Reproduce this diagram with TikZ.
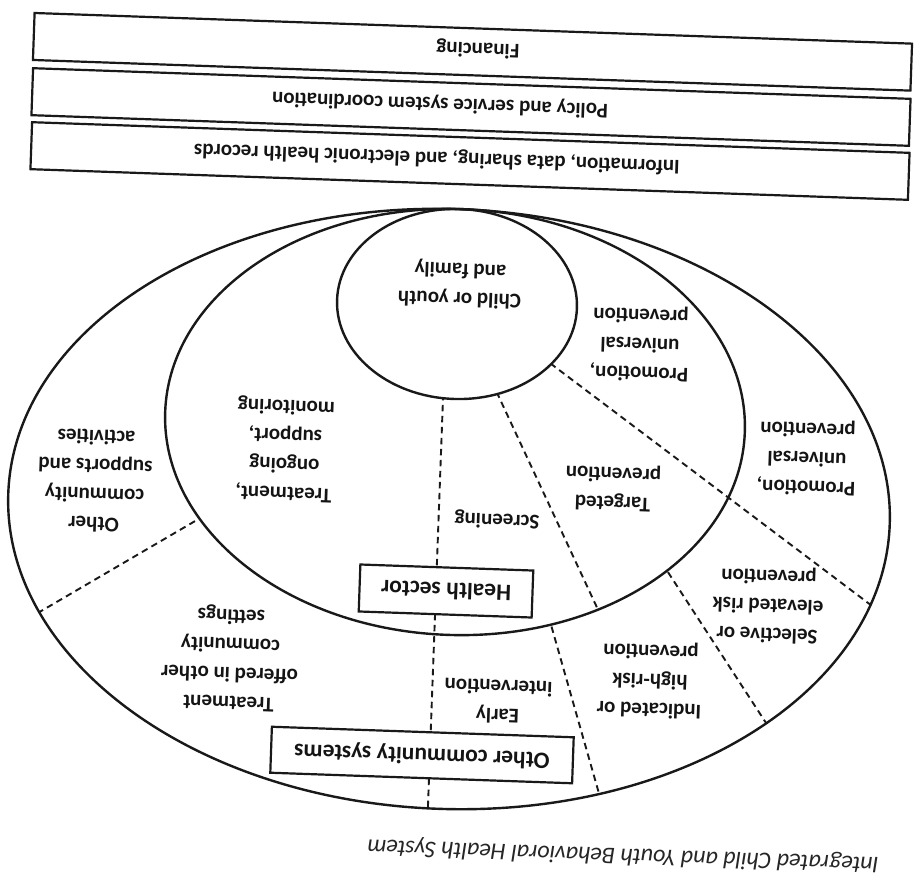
\documentclass[tikz,border=0pt]{standalone}
\usepackage{fontspec}
\setmainfont{Carlito}
\begin{document}
\begin{tikzpicture}[x=1pt,y=-1pt,
  ln/.style={line width=2.4pt, draw=black!90},
  dsh/.style={line width=1.9pt, draw=black!90, dash pattern=on 6.5pt off 4.5pt},
  lbl/.style={font=\bfseries\fontsize{21}{29}\selectfont, align=center, rotate=178, inner sep=0pt, text=black!92},
  barbox/.style={draw=black!90, line width=2.2pt, minimum width=878pt, minimum height=47pt, rotate=178, inner sep=0pt},
  bartext/.style={font=\bfseries\fontsize{21}{25}\selectfont, rotate=178, inner sep=0pt, text=black!92},
  secbox/.style={draw=black!90, fill=white, line width=2.2pt, rotate=178, inner sep=0pt, font=\bfseries\fontsize{23.5}{28}\selectfont, text=black!92},
  captext/.style={font=\itshape\fontsize{24}{28}\selectfont, rotate=178, inner sep=0pt, text=black!85}
]
\useasboundingbox (0,0) rectangle (914,887);
\fill[white] (0,0) rectangle (914,887);

% centres of the three ellipses
\coordinate (oc) at (449,509);
\coordinate (mc) at (455,422);
\coordinate (ic) at (457,304);

% end points of the dividing lines
\coordinate (v1) at (446,317);   \coordinate (v2) at (426.5,846);
\coordinate (a1) at (478,352);   \coordinate (a2) at (607,629);
\coordinate (b1) at (524,343.5); \coordinate (b2) at (898,625.5);
\coordinate (c1) at (548.5,616); \coordinate (c2) at (604.75,813.7);
\coordinate (d1) at (656,553.7); \coordinate (d2) at (775.8,738);
\coordinate (e1) at (214,510);   \coordinate (e2) at (20.7,623);

% outer ring dividers
\begin{scope}
  \clip[rotate around={-2:(oc)}] (oc) ellipse [x radius=441, y radius=300];
  \draw[dsh] (v1) -- (v2);
  \draw[dsh] (b1) -- (b2);
  \draw[dsh] (c1) -- (c2);
  \draw[dsh] (d1) -- (d2);
  \draw[dsh] (e1) -- (e2);
\end{scope}
\fill[white, rotate around={-2:(mc)}] (mc) ellipse [x radius=290, y radius=213];
% middle ring dividers
\begin{scope}
  \clip[rotate around={-2:(mc)}] (mc) ellipse [x radius=290, y radius=213];
  \draw[dsh] (v1) -- (v2);
  \draw[dsh] (a1) -- (a2);
  \draw[dsh] (b1) -- (b2);
\end{scope}
\fill[white, rotate around={-2:(ic)}] (ic) ellipse [x radius=120, y radius=95];

% ellipses
\draw[ln, rotate around={-2:(oc)}] (oc) ellipse [x radius=441, y radius=300];
\draw[ln, rotate around={-2:(mc)}] (mc) ellipse [x radius=290, y radius=213];
\draw[ln, rotate around={-2:(ic)}] (ic) ellipse [x radius=120, y radius=95];

% top bars
\node[barbox] (bar1) at (472.5,51.8) {};
\node[barbox] (bar2) at (471,107) {};
\node[barbox] (bar3) at (470,161) {};
\node[bartext] (t1) at (478,49) {Financing};
\node[bartext] (t2) at (440,104) {Policy and service system coordination};
\node[bartext] (t3) at (437,158) {Information, data sharing, and electronic health records};

% sector boxes
\node[secbox, minimum width=173pt, minimum height=47pt] (health) at (446,591) {Health sector};
\node[secbox, minimum width=302pt, minimum height=46pt] (other) at (422,755) {Other community systems};

% labels
\node[lbl] (child) at (460,284) {Child or youth\\and family};
\node[lbl] (promo1) at (640,344) {Promotion,\\universal\\prevention};
\node[lbl] (promo2) at (807,458) {Promotion,\\universal\\prevention};
\node[lbl] (targ) at (613,488) {Targeted\\prevention};
\node[lbl] (scr) at (497,520) {Screening};
\node[lbl] (treat1) at (285,449) {Treatment,\\ongoing\\support,\\monitoring};
\node[lbl] (othsup) at (95,481) {Other\\community\\supports and\\activities};
\node[lbl] (treat2) at (230,658) {Treatment\\offered in other\\community\\settings};
\node[lbl] (early) at (498,702) {Early\\intervention};
\node[lbl] (indic) at (650,680) {Indicated or\\high-risk\\prevention};
\node[lbl] (selec) at (768,605) {Selective or\\elevated risk\\prevention};

% caption
\node[captext] (caption) at (623,855) {Integrated Child and Youth Behavioral Health System};
\end{tikzpicture}
\end{document}
